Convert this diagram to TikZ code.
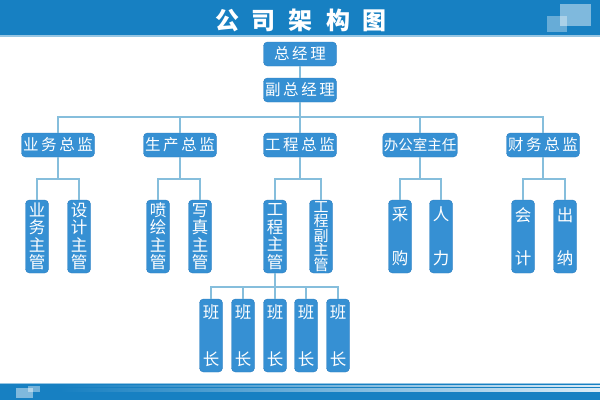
\documentclass[tikz,border=0pt]{standalone}
\usepackage{fontspec}
\newfontfamily\cjk{Noto Sans CJK SC}
\usetikzlibrary{positioning}
\definecolor{bannerblue}{HTML}{1780C2}
\definecolor{boxblue}{HTML}{3690D3}
\definecolor{boxedge}{HTML}{2A7DC0}
\definecolor{linkblue}{HTML}{86BEDC}

\begin{document}
\begin{tikzpicture}[x=1pt, y=-1pt,
    head/.style={rectangle, draw=boxedge, fill=boxblue, rounded corners=4pt,
                 minimum width=73pt, minimum height=24pt, inner sep=1pt,
                 font=\cjk\fontsize{15.5}{17}\selectfont, text=white},
    vbox/.style={rectangle, draw=boxedge, fill=boxblue, rounded corners=4pt,
                 minimum width=23pt, minimum height=73pt, inner xsep=1pt, inner ysep=0pt,
                 align=center, font=\cjk\fontsize{16.5}{17.5}\selectfont, text=white},
    link/.style={linkblue, line width=1.3pt},
    deco/.style={white, opacity=#1}
]
% page, banner and footer band
\fill[white] (0,0) rectangle (600,400);
\fill[bannerblue] (0,0) rectangle (600,35);
\fill[white!55!bannerblue] (0,35) rectangle (600,36.5);
\fill[deco=0.45] (560,4) rectangle (591,26);
\fill[deco=0.35] (547,16) rectangle (567,32);
\node[font=\cjk\bfseries\fontsize{24}{24}\selectfont, text=white] (title) at (301,20)
    {公\hspace{13pt}司\hspace{13pt}架\hspace{13pt}构\hspace{13pt}图};

\fill[white!55!bannerblue] (0,383.2) rectangle (600,384.4);
\fill[bannerblue] (0,384.4) rectangle (600,400);
\foreach \y in {385.8,388.2,390.6}
  \shade[left color=bannerblue, right color=white!85!bannerblue] (60,\y) rectangle (600,\y+1.1);
\fill[deco=0.45] (16,388) rectangle (33,398);
\fill[deco=0.4] (28,386) rectangle (40,392);

% top levels
\node[head] (gm) at (300,54) {总\,经\,理};
\node[head] (vgm) at (300,90) {副\,总\,经\,理};

\node[head] (sales) at (58,145) {业\,务\,总\,监};
\node[head] (prod) at (180,145) {生\,产\,总\,监};
\node[head] (eng) at (300,145) {工\,程\,总\,监};
\node[head, font=\cjk\fontsize{14.5}{16}\selectfont] (office) at (420,145) {办公室主任};
\node[head] (fin) at (543,145) {财\,务\,总\,监};

% vertical boxes
\node[vbox] (salesmgr) at (37,236.5) {业\\务\\主\\管};
\node[vbox] (design) at (79,236.5) {设\\计\\主\\管};
\node[vbox] (spray) at (158,236.5) {喷\\绘\\主\\管};
\node[vbox] (photo) at (200,236.5) {写\\真\\主\\管};
\node[vbox] (engmgr) at (275,236.5) {工\\程\\主\\管};
\node[vbox, font=\cjk\fontsize{15}{14.5}\selectfont] (engvice) at (321,236.5) {工\\程\\副\\主\\管};
\node[vbox] (buy) at (400,236.5) {采\\[26pt]购};
\node[vbox] (hr) at (441,236.5) {人\\[26pt]力};
\node[vbox] (acct) at (523,236.5) {会\\[26pt]计};
\node[vbox] (cash) at (565,236.5) {出\\[26pt]纳};

\foreach \x [count=\i] in {211,243,275,306,338}
  \node[vbox] (lead\i) at (\x,335.5) {班\\[29.5pt]长};

% connectors
\coordinate (busb) at (0,117);
\coordinate (busc) at (0,179);
\coordinate (busd) at (0,287);

\draw[link] (gm) -- (vgm);
\foreach \n in {sales,prod,eng,office,fin}
  \draw[link] (vgm.south) |- (\n.north |- busb) -- (\n.north);
\foreach \p/\c in {sales/salesmgr, sales/design, prod/spray, prod/photo, eng/engmgr,
                   eng/engvice, office/buy, office/hr, fin/acct, fin/cash}
  \draw[link] (\p.south) |- (\c.north |- busc) -- (\c.north);
\foreach \i in {1,...,5}
  \draw[link] (engmgr.south) |- (lead\i.north |- busd) -- (lead\i.north);
\end{tikzpicture}
\end{document}
